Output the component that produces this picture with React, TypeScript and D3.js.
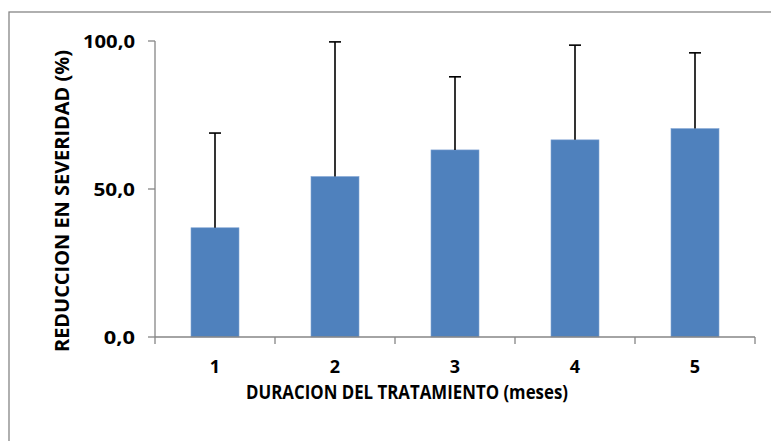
import React from "react";
import * as d3 from "d3";

const categories = ["1", "2", "3", "4", "5"];
const values = [36.9, 54.2, 63.2, 66.6, 70.4];
const errors = [32.0, 45.5, 24.7, 32.0, 25.6];
const yTicks = [0, 50, 100];
const yTitle = "REDUCCION EN SEVERIDAD (%)";
const xTitle = "DURACION DEL TRATAMIENTO (meses)";

export default function App() {
  const W = 771, H = 441;
  const left = 155, right = 755, top = 41, bottom = 337;
  const x = d3.scaleBand<string>().domain(categories).range([left, right]).paddingInner(0.6).paddingOuter(0.3);
  const y = d3.scaleLinear().domain([0, 100]).range([bottom, top]);
  const fmt = (v: number) => v.toFixed(1).replace(".", ",");
  const font = "'Open Sans', 'Liberation Sans', sans-serif";
  const axisColor = "#868686";
  const step = (right - left) / categories.length;
  const tickXs = d3.range(categories.length + 1).map((i) => left + i * step);
  const labelLen = (s: string) => s.length * 10.4;

  return (
    <svg width={W} height={H} style={{ position: "absolute", left: 0, top: 0, background: "#fff" }} fontFamily={font}>
      <rect x={9} y={12} width={900} height={600} fill="#fff" stroke={axisColor} strokeWidth={1.3} />
      {/* bars */}
      {categories.map((c, i) => (
        <rect key={"b" + c} x={x(c)} y={y(values[i])} width={x.bandwidth()} height={bottom - y(values[i])} fill="#4F81BD" stroke="#7FA3D3" strokeWidth={0.6} />
      ))}
      {/* error bars */}
      {categories.map((c, i) => {
        const cx = (x(c) as number) + x.bandwidth() / 2;
        const yt = y(values[i] + errors[i]);
        return (
          <g key={"e" + c} stroke="#000" strokeWidth={1.6}>
            <line x1={cx} x2={cx} y1={y(values[i])} y2={yt} />
            <line x1={cx - 6} x2={cx + 6} y1={yt} y2={yt} />
          </g>
        );
      })}
      {/* y axis */}
      <line x1={left} x2={left} y1={top} y2={bottom} stroke={axisColor} strokeWidth={1.3} />
      {yTicks.map((t) => (
        <g key={"y" + t}>
          <line x1={left - 7} x2={left} y1={y(t)} y2={y(t)} stroke={axisColor} strokeWidth={1.3} />
          <text x={135} y={y(t) + 1} dy="0.35em" textAnchor="end" fontSize={18} fontWeight="bold" fill="#000" textLength={labelLen(fmt(t))} lengthAdjust="spacingAndGlyphs">{fmt(t)}</text>
        </g>
      ))}
      {/* x axis */}
      <line x1={left} x2={right} y1={bottom} y2={bottom} stroke={axisColor} strokeWidth={1.3} />
      {tickXs.map((tx, i) => (
        <line key={"xt" + i} x1={tx} x2={tx} y1={bottom} y2={bottom + 7} stroke={axisColor} strokeWidth={1.3} />
      ))}
      {categories.map((c) => (
        <text key={"xl" + c} x={(x(c) as number) + x.bandwidth() / 2} y={367} dy="0.35em" textAnchor="middle" fontSize={18} fontWeight="bold" fill="#000">{c}</text>
      ))}
      <text x={407} y={392} dy="0.35em" textAnchor="middle" fontSize={19} fontWeight="bold" fill="#000" textLength={322} lengthAdjust="spacingAndGlyphs">{xTitle}</text>
      <text transform="translate(62,201) rotate(-90)" dy="0.35em" textAnchor="middle" fontSize={19} fontWeight="bold" fill="#000" textLength={302} lengthAdjust="spacingAndGlyphs">{yTitle}</text>
    </svg>
  );
}
